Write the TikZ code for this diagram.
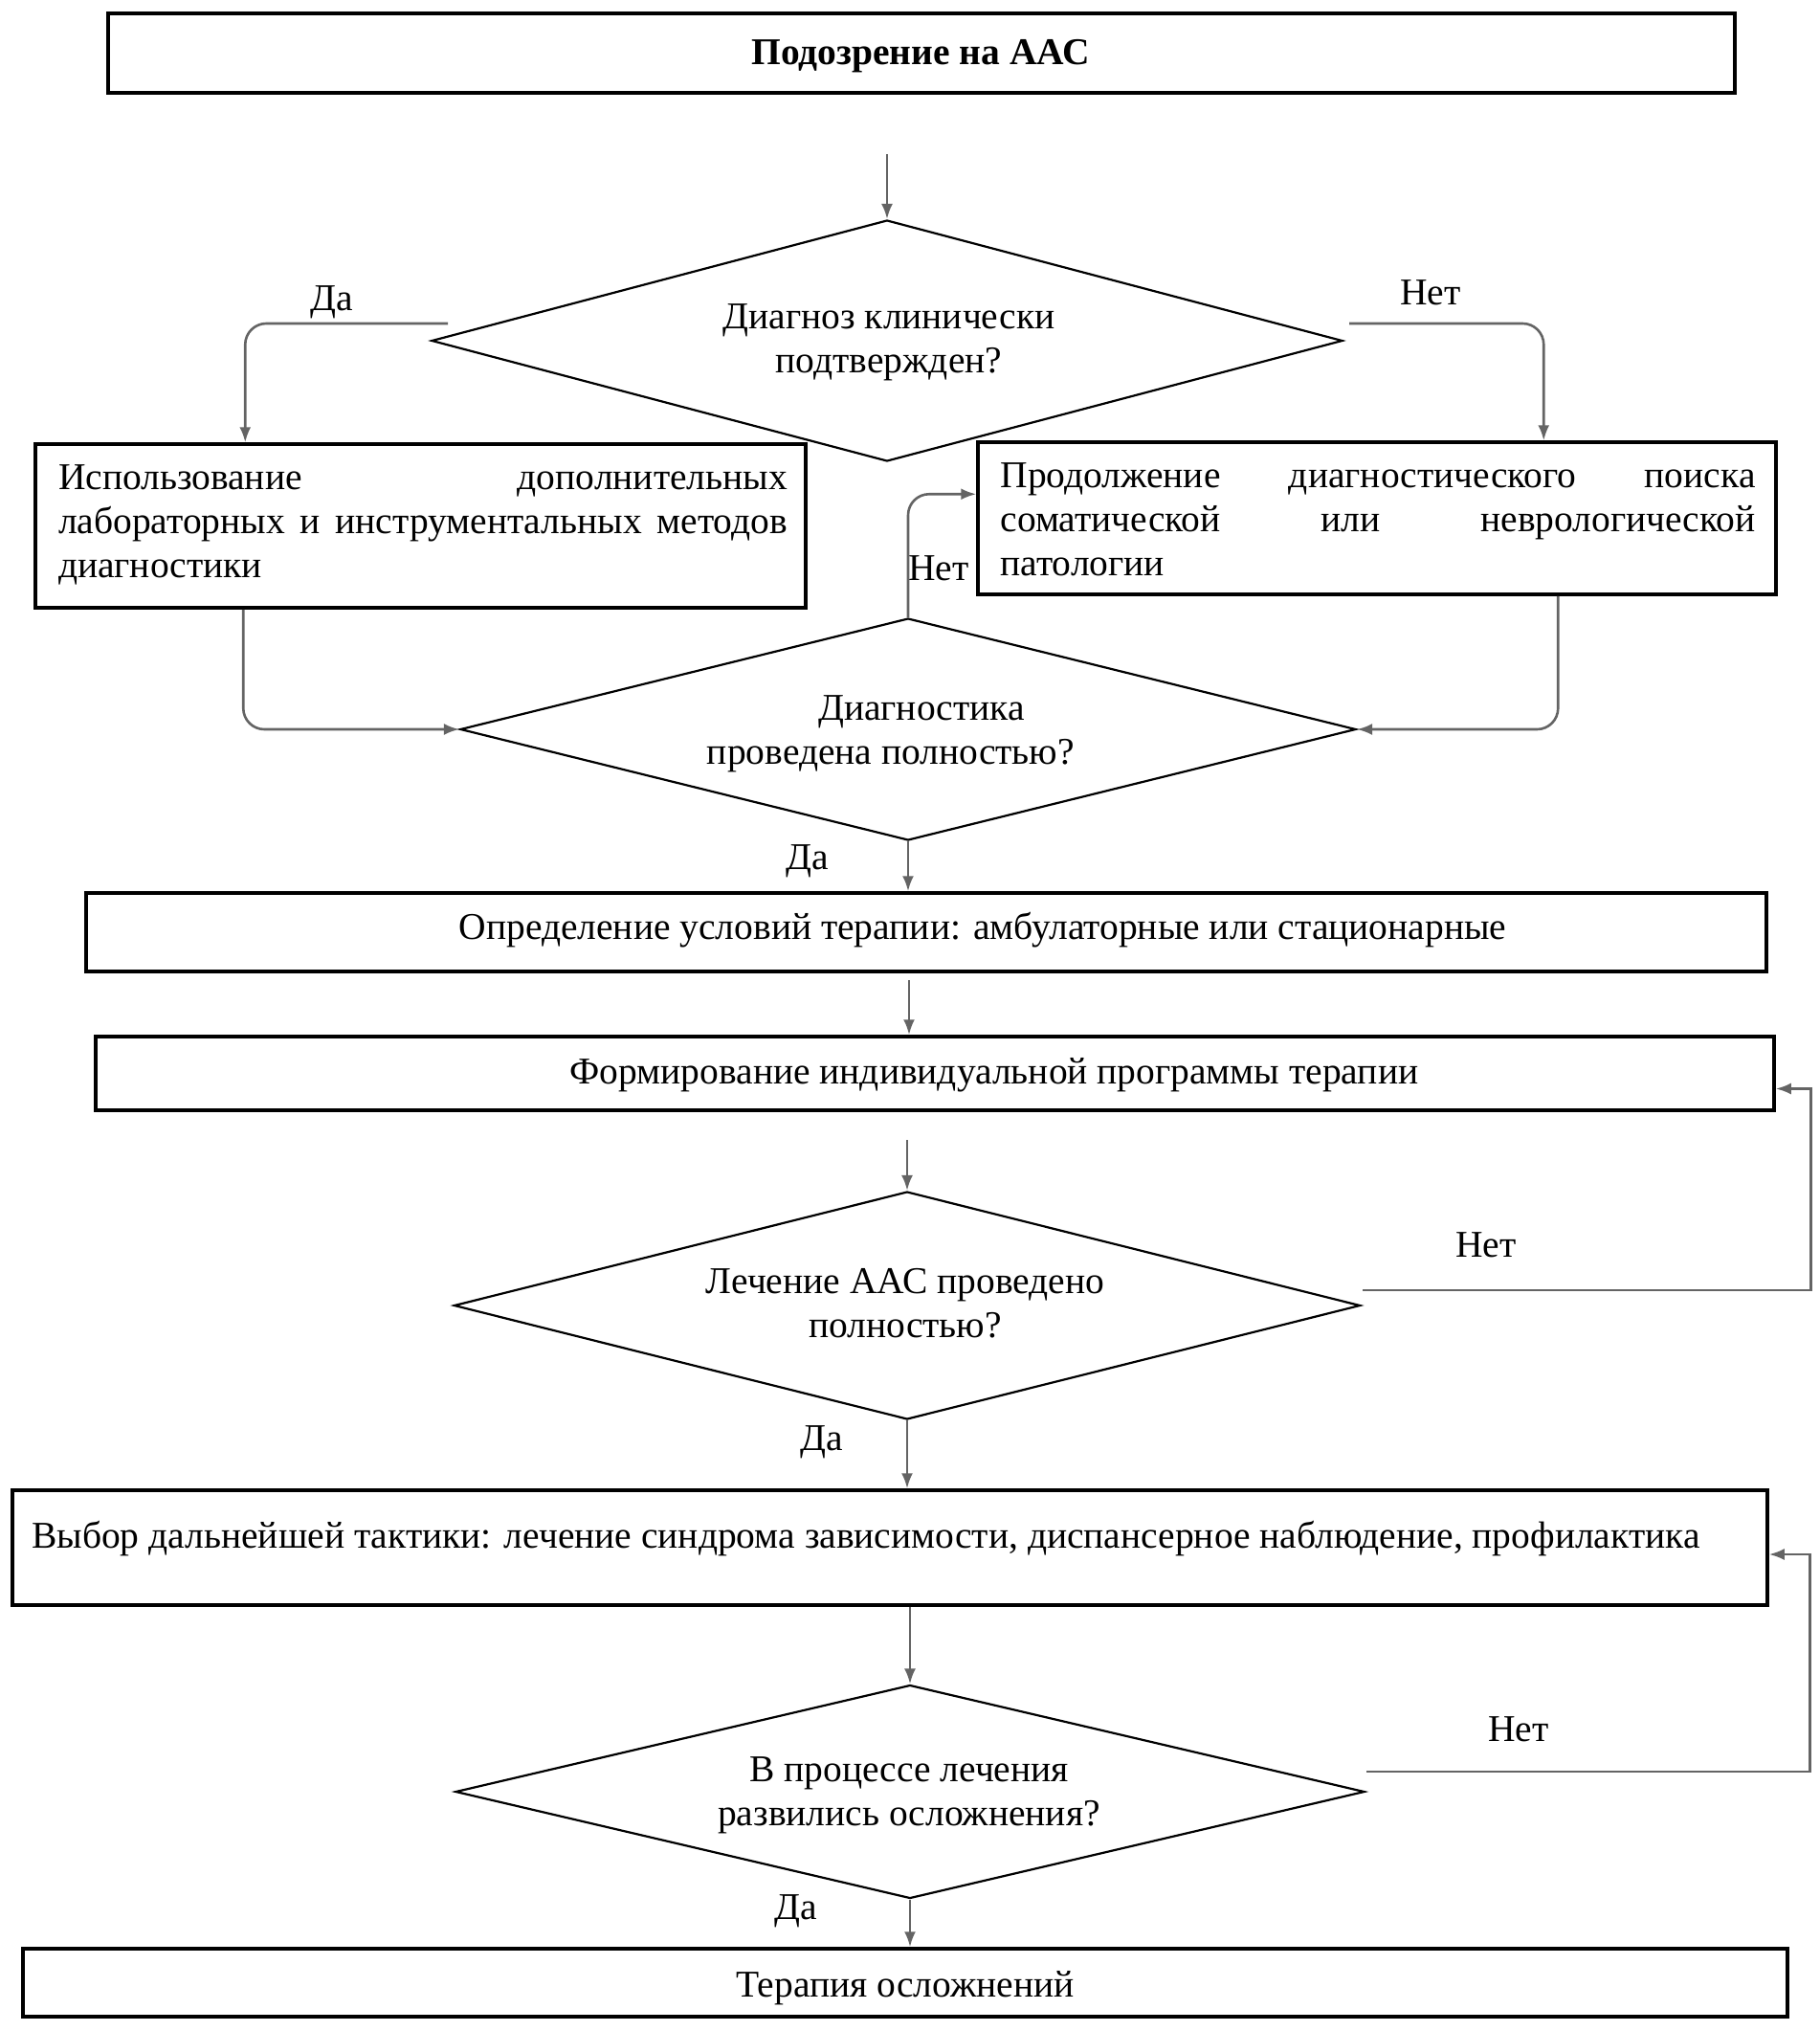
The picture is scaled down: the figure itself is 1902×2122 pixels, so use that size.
\documentclass[tikz,border=0pt]{standalone}
\usepackage{fontspec}
\setmainfont{Liberation Serif}
\usetikzlibrary{arrows.meta,shapes.geometric}
\definecolor{conncol}{RGB}{100,100,100}
\begin{document}
\begin{tikzpicture}[x=1pt,y=-1pt,
  box/.style={draw=black, line width=3.5pt, rectangle, inner sep=0pt},
  dia/.style={draw=black, line width=2.2pt, diamond, inner sep=0pt},
  txt/.style={font=\fontsize{39.5}{46}\selectfont, align=center, inner sep=0pt},
  jtxt/.style={font=\fontsize{39.5}{46}\selectfont, align=justify, inner sep=0pt},
  lbl/.style={font=\fontsize{39.5}{46}\selectfont, inner sep=0pt},
  conn/.style={draw=conncol, line width=2.6pt, -{Latex[length=16pt,width=12pt]}},
  rc/.style={rounded corners=22pt}]
\useasboundingbox (0,0) rectangle (1902,2122);
% boxes
\node[box, minimum width=1700, minimum height=83] (b1) at (963,55.5) {};
\node[txt, font=\fontsize{39.5}{46}\selectfont\bfseries] (t1) at (962,59) {Подозрение на ААС};
\node[box, minimum width=805, minimum height=171] (b2) at (439.5,549.5) {};
\node[jtxt, text width=762pt] (t2) at (442,548) {Использование дополнительных\linebreak лабораторных и инструментальных методов\linebreak диагностики};
\node[box, minimum width=834, minimum height=159] (b3) at (1439,541.5) {};
\node[jtxt, text width=789pt] (t3) at (1440,543) {Продолжение диагностического поиска\linebreak соматической или неврологической\linebreak патологии};
\node[box, minimum width=1756, minimum height=82] (b4) at (968,974) {};
\node[txt] (t4) at (1027,972) {Определение условий терапии: амбулаторные или стационарные};
\node[box, minimum width=1754, minimum height=77] (b5) at (977,1121.5) {};
\node[txt] (t5) at (1039,1123) {Формирование индивидуальной программы терапии};
\node[box, minimum width=1834, minimum height=120] (b6) at (930,1617) {};
\node[txt, anchor=west] (t6) at (33,1608) {Выбор дальнейшей тактики: лечение синдрома зависимости, диспансерное наблюдение, профилактика};
\node[box, minimum width=1844, minimum height=71] (b7) at (946,2071.5) {};
\node[txt] (t7) at (946,2077) {Терапия осложнений};
% diamonds
\node[dia, minimum width=952, minimum height=252] (d1) at (927,356) {};
\node[txt] (td1) at (929,358) {Диагноз клинически\\подтвержден?};
\node[dia, minimum width=936, minimum height=232] (d2) at (949,762) {};
\node[txt] (td2) at (931,767) {\hspace*{64pt}Диагностика\\проведена полностью?};
\node[dia, minimum width=947, minimum height=238] (d3) at (948,1364) {};
\node[txt] (td3) at (946,1362) {Лечение ААС проведено\\полностью?};
\node[dia, minimum width=950, minimum height=223] (d4) at (951,1872) {};
\node[txt] (td4) at (950,1876) {В процессе лечения\\развились осложнения?};
% labels
\node[lbl] (ly1) at (347,316) {Да};
\node[lbl] (ln1) at (1495,306) {Нет};
\node[lbl] (ln2) at (981,594) {Нет};
\node[lbl] (ly2) at (844,900) {Да};
\node[lbl] (ln3) at (1553,1301) {Нет};
\node[lbl] (ly3) at (859,1507) {Да};
\node[lbl] (ln4) at (1587,1807) {Нет};
\node[lbl] (ly4) at (832,1997) {Да};
% connectors
\coordinate (s0) at (927,161);
\draw[conn] (s0) -- (d1.north);
\coordinate (y1) at (468,338);
\draw[conn, rc] (y1) -| ([xshift=221pt]b2.north west);
\coordinate (n1) at (1410,338);
\draw[conn, rc] (n1) -| ([xshift=593pt]b3.north west);
\draw[conn, rc] ([xshift=219pt]b2.south west) |- (d2.west);
\draw[conn, rc] ([xshift=608pt]b3.south west) |- (d2.east);
\draw[conn, rc] (d2.north) |- ([yshift=-56pt]b3.north west);
\draw[conn] (d2.south) -- (d2.south |- b4.north);
\coordinate (s4) at (950,1024);
\draw[conn] (s4) -- (s4 |- b5.north);
\coordinate (s5) at (948,1191);
\draw[conn] (s5) -- (d3.north);
\coordinate (n3) at (1424,1348);
\draw[conn] (n3) -| ([xshift=37pt,yshift=-16pt]b5.east) -- ([yshift=-16pt]b5.east);
\draw[conn] (d3.south) -- (d3.south |- b6.north);
\draw[conn] (b6.south -| d4.north) -- (d4.north);
\coordinate (n4) at (1428,1851);
\draw[conn] (n4) -| ([xshift=43pt,yshift=-7pt]b6.east) -- ([yshift=-7pt]b6.east);
\draw[conn] (d4.south) -- (d4.south |- b7.north);
\end{tikzpicture}
\end{document}
